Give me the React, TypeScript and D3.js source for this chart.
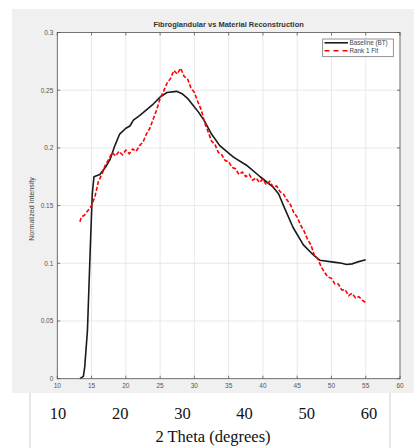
import React from "react";
import * as d3 from "d3";

const baseX = [13.3, 13.8, 14.0, 14.4, 14.8, 15.1, 15.35, 16.2, 17.0, 17.7, 18.4, 19.1, 20.0, 20.6, 21.1, 22.0, 23.0, 24.0, 25.0, 26.0, 27.4, 28.2, 29.0, 29.8, 30.6, 31.5, 32.5, 33.7, 35.7, 37.6, 39.6, 41.5, 42.3, 43.0, 44.4, 45.9, 47.4, 48.3, 50.3, 51.5, 52.2, 53.0, 53.7, 55.0];
const baseY = [0, 0.002, 0.01, 0.042, 0.111, 0.16, 0.175, 0.177, 0.183, 0.19, 0.202, 0.212, 0.217, 0.219, 0.224, 0.228, 0.233, 0.238, 0.244, 0.248, 0.249, 0.247, 0.243, 0.237, 0.231, 0.223, 0.212, 0.202, 0.192, 0.185, 0.175, 0.166, 0.16, 0.15, 0.131, 0.116, 0.107, 0.1027, 0.101, 0.1, 0.099, 0.0995, 0.101, 0.103];

const fitX = [13.3, 13.5, 14.0, 14.5, 15.0, 15.5, 16.0, 16.5, 17.0, 17.5, 18.0, 18.5, 19.0, 19.5, 20.0, 20.5, 21.0, 21.5, 22.0, 22.5, 23.0, 23.5, 24.0, 24.5, 25.0, 25.5, 26.0, 26.5, 27.0, 27.5, 28.0, 28.5, 29.0, 29.5, 30.0, 30.5, 31.0, 31.5, 32.0, 32.5, 33.0, 33.5, 34.0, 34.5, 35.0, 35.5, 36.0, 36.5, 37.0, 37.5, 38.0, 38.5, 39.0, 39.5, 40.0, 40.5, 41.0, 41.5, 42.0, 42.5, 43.0, 43.5, 44.0, 44.5, 45.0, 45.5, 46.0, 46.5, 47.0, 47.5, 48.0, 48.5, 49.0, 49.5, 50.0, 50.5, 51.0, 51.5, 52.0, 52.5, 53.0, 53.5, 54.0, 54.5, 55.0];
const fitY = [0.136, 0.140, 0.142, 0.146, 0.150, 0.158, 0.171, 0.177, 0.185, 0.190, 0.196, 0.193, 0.197, 0.194, 0.198, 0.195, 0.199, 0.197, 0.202, 0.205, 0.212, 0.217, 0.225, 0.233, 0.243, 0.249, 0.256, 0.260, 0.267, 0.264, 0.269, 0.262, 0.260, 0.252, 0.248, 0.240, 0.233, 0.222, 0.214, 0.206, 0.203, 0.196, 0.194, 0.189, 0.188, 0.183, 0.182, 0.177, 0.179, 0.175, 0.177, 0.172, 0.174, 0.170, 0.173, 0.168, 0.171, 0.166, 0.167, 0.162, 0.160, 0.155, 0.151, 0.144, 0.140, 0.133, 0.128, 0.121, 0.116, 0.107, 0.104, 0.097, 0.092, 0.088, 0.087, 0.082, 0.082, 0.077, 0.077, 0.072, 0.074, 0.070, 0.071, 0.068, 0.066];

const xTicks = [10, 15, 20, 25, 30, 35, 40, 45, 50, 55, 60];
const yTicks = [0, 0.05, 0.1, 0.15, 0.2, 0.25, 0.3];
const yTickLabels = ["0", "0.05", "0.1", "0.15", "0.2", "0.25", "0.3"];
const bigTicks = [10, 20, 30, 40, 50, 60];

const title = "Fibroglandular vs Material Reconstruction";
const yLabel = "Normalized Intensity";
const xLabel = "2 Theta (degrees)";
const seriesNames = ["Baseline (BT)", "Rank 1 Fit"];

export default function App() {
  const W = 414, H = 448;
  const L = 57.3, R = 400, T = 32.5, B = 378.7;
  const x = d3.scaleLinear().domain([10, 60]).range([L, R]);
  const y = d3.scaleLinear().domain([0, 0.3]).range([B, T]);
  const xBig = d3.scaleLinear().domain([10, 60]).range([58, 369]);

  const line = d3.line<[number, number]>().x(d => x(d[0])).y(d => y(d[1]));
  const basePts = baseX.map((v, i) => [v, baseY[i]] as [number, number]);
  const fitPts = fitX.map((v, i) => [v, fitY[i]] as [number, number]);

  const sans = "'Liberation Sans', Arial, sans-serif";
  const serif = "'Liberation Serif', 'Times New Roman', serif";

  return (
    <svg width={W} height={H} style={{ position: "absolute", left: 0, top: 0 }}>
      <rect x={0} y={0} width={W} height={H} fill="#ffffff" />
      <rect x={12} y={9} width={W - 12} height={384} fill="#f0f0f0" />
      <rect x={L} y={T} width={R - L} height={B - T} fill="#ffffff" />
      {xTicks.map(t => (
        <line key={"gx" + t} x1={x(t)} x2={x(t)} y1={T} y2={B} stroke="#e3e3e3" strokeWidth={0.8} />
      ))}
      {yTicks.map(t => (
        <line key={"gy" + t} x1={L} x2={R} y1={y(t)} y2={y(t)} stroke="#e3e3e3" strokeWidth={0.8} />
      ))}
      <path d={line(basePts) || ""} fill="none" stroke="#1a1a1a" strokeWidth={1.6} strokeLinejoin="round" />
      <path d={line(fitPts) || ""} fill="none" stroke="#ff0000" strokeWidth={1.6} strokeDasharray="4,2" />
      {xTicks.map(t => (
        <g key={"tx" + t}>
          <line x1={x(t)} x2={x(t)} y1={B} y2={B - 3} stroke="#444" strokeWidth={0.7} />
          <line x1={x(t)} x2={x(t)} y1={T} y2={T + 3} stroke="#444" strokeWidth={0.7} />
          <text x={x(t)} y={B + 9} fontSize={6.5} fill="#555" textAnchor="middle" fontFamily={sans}>{t}</text>
        </g>
      ))}
      {yTicks.map((t, i) => (
        <g key={"ty" + t}>
          <line x1={L} x2={L + 3} y1={y(t)} y2={y(t)} stroke="#444" strokeWidth={0.7} />
          <line x1={R} x2={R - 3} y1={y(t)} y2={y(t)} stroke="#444" strokeWidth={0.7} />
          <text x={L - 4} y={y(t) + 2.3} fontSize={6.5} fill="#555" textAnchor="end" fontFamily={sans}>{yTickLabels[i]}</text>
        </g>
      ))}
      <rect x={L} y={T} width={R - L} height={B - T} fill="none" stroke="#555" strokeWidth={0.8} />
      <text x={(L + R) / 2} y={27} fontSize={7.5} fontWeight="bold" fill="#333" textAnchor="middle" fontFamily={sans}>{title}</text>
      <text transform={`translate(33.5,209) rotate(-90)`} fontSize={7} fill="#444" textAnchor="middle" fontFamily={sans}>{yLabel}</text>
      <g>
        <rect x={322.7} y={39} width={70.6} height={17.7} fill="#fff" stroke="#666" strokeWidth={0.7} />
        <line x1={324.5} x2={348} y1={42.8} y2={42.8} stroke="#1a1a1a" strokeWidth={1.6} />
        <line x1={324.5} x2={348} y1={50.7} y2={50.7} stroke="#ff0000" strokeWidth={1.6} strokeDasharray="5,4" />
        <text x={349.5} y={45} fontSize={6.3} fill="#444" fontFamily={sans}>{seriesNames[0]}</text>
        <text x={349.5} y={53} fontSize={6.3} fill="#444" fontFamily={sans}>{seriesNames[1]}</text>
      </g>
      <line x1={30} x2={30} y1={393} y2={H} stroke="#cfcfcf" strokeWidth={1} />
      <line x1={390} x2={390} y1={393} y2={H} stroke="#cfcfcf" strokeWidth={1} />
      {bigTicks.map(t => (
        <text key={"b" + t} x={xBig(t)} y={419} fontSize={16.5} fill="#111" textAnchor="middle" fontFamily={serif}>{t}</text>
      ))}
      <text x={213} y={442} fontSize={16.5} fill="#111" textAnchor="middle" fontFamily={serif}>{xLabel}</text>
    </svg>
  );
}
